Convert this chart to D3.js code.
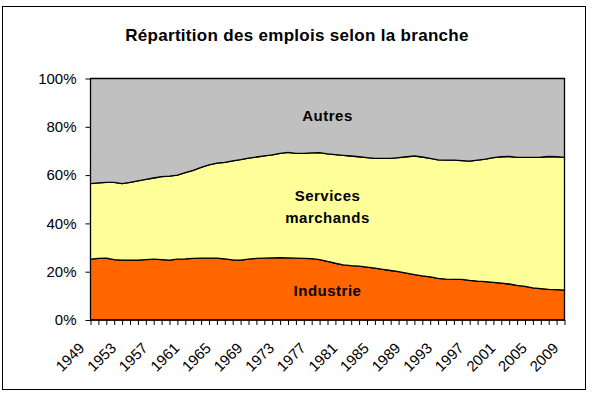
<!DOCTYPE html>
<html lang="fr">
<head>
    <meta charset="UTF-8">
    <title>Répartition des emplois selon la branche</title>
    <style>
        body { margin: 0; background: #fff; }
        text { font-family: "Liberation Sans", Arial, sans-serif; }
    </style>
</head>
<body>
    <script src="https://d3js.org/d3.v7.min.js"></script>
    <script>
        // données (en % de l'emploi total)
        var years = d3.range(1949, 2010);
        var industrie = [25.2, 25.5, 25.6, 25.0, 24.8, 24.8, 24.8, 25.0, 25.2, 25.0,
            24.8, 25.2, 25.3, 25.5, 25.6, 25.6, 25.6, 25.3, 24.9, 24.8,
            25.2, 25.5, 25.6, 25.7, 25.8, 25.7, 25.6, 25.5, 25.4, 25.0,
            24.3, 23.5, 22.8, 22.5, 22.3, 21.9, 21.5, 21.0, 20.5, 20.0,
            19.4, 18.8, 18.3, 17.9, 17.2, 16.9, 16.8, 16.8, 16.4, 16.1,
            15.9, 15.6, 15.3, 14.9, 14.3, 13.9, 13.3, 13.0, 12.7, 12.6, 12.4];
        var services = [31.3, 31.3, 31.4, 32.0, 31.7, 32.2, 32.8, 33.2, 33.6, 34.4,
            34.8, 34.8, 35.7, 36.5, 37.6, 38.6, 39.4, 40.0, 41.0, 41.6,
            41.8, 42.0, 42.4, 42.7, 43.2, 43.7, 43.4, 43.5, 43.8, 44.3,
            44.5, 45.0, 45.4, 45.4, 45.3, 45.3, 45.4, 45.9, 46.4, 47.2,
            48.2, 49.1, 49.2, 49.0, 49.1, 49.3, 49.4, 49.2, 49.4, 50.1,
            50.7, 51.6, 52.3, 52.8, 53.0, 53.4, 54.0, 54.4, 55.0, 55.0, 54.9];
        var autres = [43.5, 43.2, 43.0, 43.0, 43.5, 43.0, 42.4, 41.8, 41.2, 40.6,
            40.4, 40.0, 39.0, 38.0, 36.8, 35.8, 35.0, 34.7, 34.1, 33.6,
            33.0, 32.5, 32.0, 31.6, 31.0, 30.6, 31.0, 31.0, 30.8, 30.7,
            31.2, 31.5, 31.8, 32.1, 32.4, 32.8, 33.1, 33.1, 33.1, 32.8,
            32.4, 32.1, 32.5, 33.1, 33.7, 33.8, 33.8, 34.0, 34.2, 33.8,
            33.4, 32.8, 32.4, 32.3, 32.7, 32.7, 32.7, 32.6, 32.3, 32.4, 32.7];
        var yearLabels = d3.range(1949, 2010, 4);
        var yTicks = [0, 0.2, 0.4, 0.6, 0.8, 1];
        var keys = ["industrie", "services", "autres"];
        var colors = {industrie: "#FF6600", services: "#FFFF99", autres: "#C0C0C0"};

        var W = 594, H = 395;
        var margin = {top: 78.5, right: 29.5, bottom: 75, left: 90.5};
        var w = W - margin.left - margin.right;
        var h = H - margin.top - margin.bottom;

        var table = years.map(function(y, i) {
            return {year: y, industrie: industrie[i], services: services[i], autres: autres[i]};
        });
        var series = d3.stack().keys(keys).offset(d3.stackOffsetExpand)(table);

        var svg = d3.select("body").append("svg")
            .attr("width", W)
            .attr("height", H);

        // cadre extérieur
        svg.append("rect")
            .attr("x", 2.5).attr("y", 6.5)
            .attr("width", 583).attr("height", 383)
            .attr("fill", "#fff").attr("stroke", "#000");

        svg.append("text")
            .attr("x", 297).attr("y", 41)
            .attr("text-anchor", "middle")
            .style("font-size", "17px").style("font-weight", "bold")
            .style("letter-spacing", "0.3px")
            .text("Répartition des emplois selon la branche");

        var g = svg.append("g")
            .attr("transform", "translate(" + margin.left + "," + margin.top + ")");

        var x = d3.scaleLinear().domain([1949, 2009]).range([0, w]);
        var y = d3.scaleLinear().domain([0, 1]).range([h, 0]);

        var area = d3.area()
            .x(function(d) { return x(d.data.year); })
            .y0(function(d) { return y(d[0]); })
            .y1(function(d) { return y(d[1]); });

        g.selectAll(".couche")
            .data(series)
            .enter().append("path")
            .attr("class", "couche")
            .attr("d", area)
            .attr("fill", function(d) { return colors[d.key]; })
            .attr("stroke", "#000")
            .attr("stroke-width", 1.3);

        // bord de la zone de traçage
        g.append("rect")
            .attr("width", w).attr("height", h)
            .attr("fill", "none").attr("stroke", "#000");

        var yAxis = d3.axisLeft(y)
            .tickValues(yTicks)
            .tickFormat(d3.format(".0%"))
            .tickSize(5).tickPadding(9);
        g.append("g").call(yAxis)
            .call(function(a) {
                a.select(".domain").remove();
                a.selectAll("line").attr("stroke", "#000");
                a.selectAll("text").style("font-size", "15px").style("font-family", "Liberation Sans, Arial");
            });

        var xAxis = d3.axisBottom(x)
            .tickValues(years)
            .tickFormat("")
            .tickSize(5);
        g.append("g")
            .attr("transform", "translate(0," + h + ")")
            .call(xAxis)
            .call(function(a) {
                a.select(".domain").remove();
                a.selectAll("line").attr("stroke", "#000");
            });

        g.selectAll(".annee")
            .data(yearLabels)
            .enter().append("text")
            .attr("class", "annee")
            .attr("transform", function(d) {
                return "translate(" + (x(d) - 5) + "," + (h + 29) + ") rotate(-45)";
            })
            .attr("text-anchor", "end")
            .style("font-size", "15px")
            .text(function(d) { return d; });

        // étiquettes des couches
        var cx = x(1979);
        var labels = [
            {t: "Autres", v: 0.826},
            {t: "Services", v: 0.491},
            {t: "marchands", v: 0.402},
            {t: "Industrie", v: 0.101}
        ];
        g.selectAll(".etiq")
            .data(labels)
            .enter().append("text")
            .attr("class", "etiq")
            .attr("x", cx)
            .attr("y", function(d) { return y(d.v); })
            .attr("text-anchor", "middle")
            .style("font-size", "15px").style("font-weight", "bold")
            .style("letter-spacing", "0.5px")
            .text(function(d) { return d.t; });
    </script>
</body>
</html>
